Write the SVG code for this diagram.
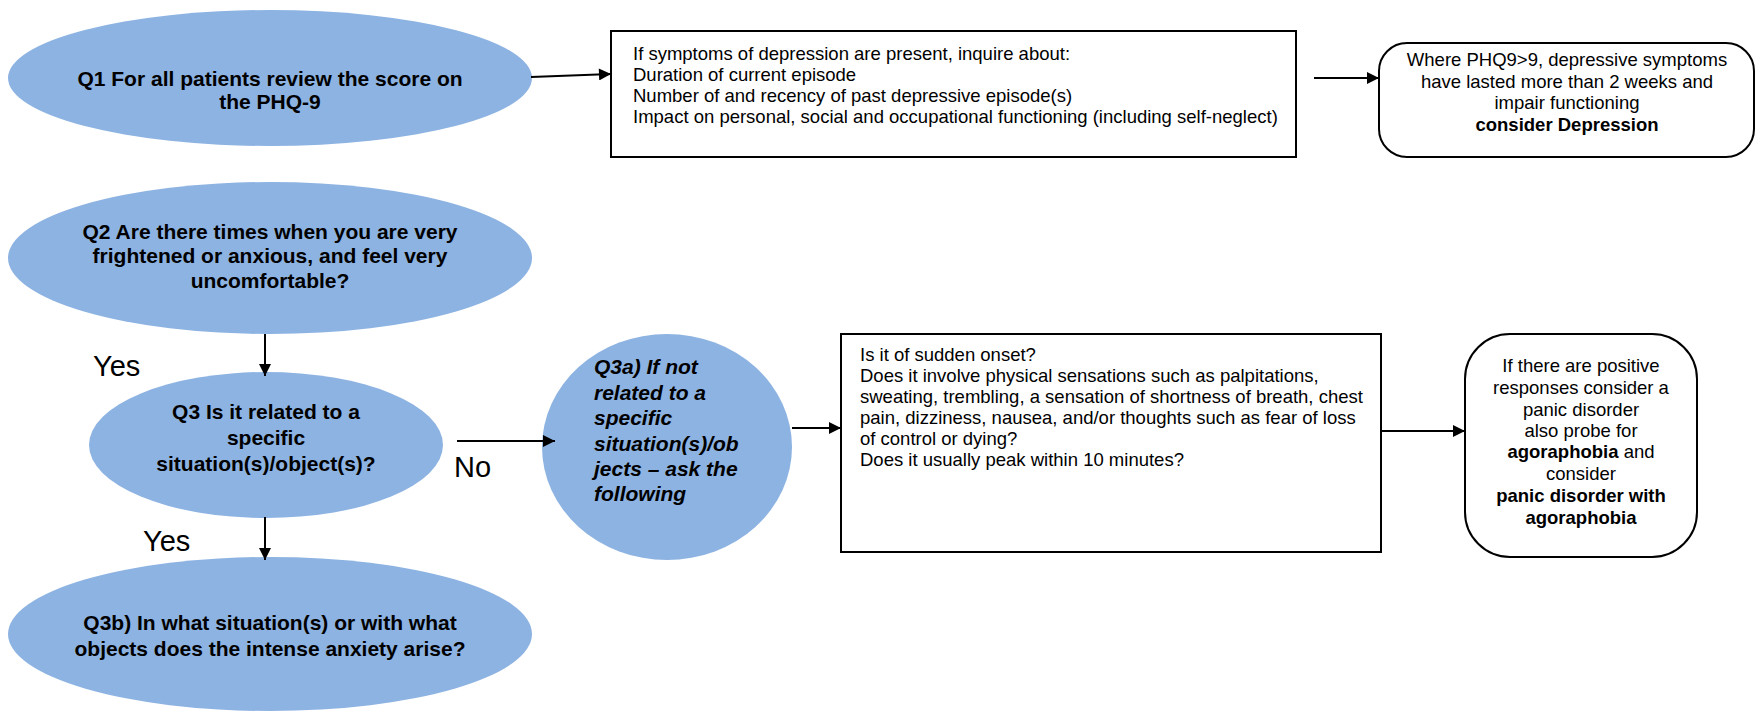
<svg xmlns="http://www.w3.org/2000/svg" width="1756" height="711" viewBox="0 0 1756 711">
<style>
.ell{fill:#8DB3E2}
.box{fill:#fff;stroke:#000;stroke-width:2}
.t{font-family:"Liberation Sans",Arial,sans-serif;font-size:18.5px;fill:#000}
.b{font-weight:bold;font-size:21px}
.i{font-style:italic}
.c{text-anchor:middle}
.lbl{font-family:"Liberation Sans",Arial,sans-serif;font-size:29px;fill:#000}
.con{stroke:#000;stroke-width:2;fill:none;marker-end:url(#ah)}
</style>
<defs>
<marker id="ah" viewBox="0 0 10 10" refX="10" refY="5" markerWidth="14" markerHeight="12" markerUnits="userSpaceOnUse" orient="auto">
<path d="M0,0 L10,5 L0,10 z" fill="#000"/>
</marker>
</defs>
<rect width="1756" height="711" fill="#fff"/>
<g id="q1">
<ellipse class="ell" cx="270" cy="78" rx="262" ry="68"/>
<text class="t b c" x="270" y="86">Q1 For all patients review the score on</text>
<text class="t b c" x="270" y="109">the PHQ-9</text>
</g>
<g id="box1">
<rect class="box" x="611" y="31" width="685" height="126"/>
<text class="t" x="633" y="60">If symptoms of depression are present, inquire about:</text>
<text class="t" x="633" y="81">Duration of current episode</text>
<text class="t" x="633" y="102">Number of and recency of past depressive episode(s)</text>
<text class="t" x="633" y="123">Impact on personal, social and occupational functioning (including self-neglect)</text>
</g>
<g id="box2">
<rect class="box" x="1379" y="43" width="375" height="114" rx="28"/>
<text class="t c" x="1567" y="66">Where PHQ9&gt;9, depressive symptoms</text>
<text class="t c" x="1567" y="88">have lasted more than 2 weeks and</text>
<text class="t c" x="1567" y="109">impair functioning</text>
<text class="t c" x="1567" y="131" font-weight="bold">consider Depression</text>
</g>
<g id="q2">
<ellipse class="ell" cx="270" cy="258" rx="262" ry="76"/>
<text class="t b c" x="270" y="239">Q2 Are there times when you are very</text>
<text class="t b c" x="270" y="263">frightened or anxious, and feel very</text>
<text class="t b c" x="270" y="288">uncomfortable?</text>
</g>
<g id="q3">
<ellipse class="ell" cx="266" cy="445" rx="177" ry="73"/>
<text class="t b c" x="266" y="419">Q3 Is it related to a</text>
<text class="t b c" x="266" y="445">specific</text>
<text class="t b c" x="266" y="471">situation(s)/object(s)?</text>
</g>
<g id="q3a">
<ellipse class="ell" cx="667" cy="447" rx="125" ry="113"/>
<text class="t b i" x="594" y="374">Q3a) If not</text>
<text class="t b i" x="594" y="400">related to a</text>
<text class="t b i" x="594" y="425">specific</text>
<text class="t b i" x="594" y="451">situation(s)/ob</text>
<text class="t b i" x="594" y="476">jects – ask the</text>
<text class="t b i" x="594" y="501">following</text>
</g>
<g id="box3">
<rect class="box" x="841" y="334" width="540" height="218"/>
<text class="t" x="860" y="361">Is it of sudden onset?</text>
<text class="t" x="860" y="382">Does it involve physical sensations such as palpitations,</text>
<text class="t" x="860" y="403">sweating, trembling, a sensation of shortness of breath, chest</text>
<text class="t" x="860" y="424">pain, dizziness, nausea, and/or thoughts such as fear of loss</text>
<text class="t" x="860" y="445">of control or dying?</text>
<text class="t" x="860" y="466">Does it usually peak within 10 minutes?</text>
</g>
<g id="box4">
<rect class="box" x="1465" y="334" width="232" height="223" rx="45"/>
<text class="t c" x="1581" y="372">If there are positive</text>
<text class="t c" x="1581" y="394">responses consider a</text>
<text class="t c" x="1581" y="416">panic disorder</text>
<text class="t c" x="1581" y="437">also probe for</text>
<text class="t c" x="1581" y="458"><tspan font-weight="bold">agoraphobia</tspan> and</text>
<text class="t c" x="1581" y="480">consider</text>
<text class="t c" x="1581" y="502" font-weight="bold">panic disorder with</text>
<text class="t c" x="1581" y="524" font-weight="bold">agoraphobia</text>
</g>
<g id="q3b">
<ellipse class="ell" cx="270" cy="634" rx="262" ry="77"/>
<text class="t b c" x="270" y="630">Q3b) In what situation(s) or with what</text>
<text class="t b c" x="270" y="656">objects does the intense anxiety arise?</text>
</g>
<g id="labels">
<text class="lbl" x="93" y="376">Yes</text>
<text class="lbl" x="454" y="477">No</text>
<text class="lbl" x="143" y="551">Yes</text>
</g>
<g id="connectors">
<line class="con" x1="531" y1="77" x2="611" y2="74"/>
<line class="con" x1="1314" y1="78" x2="1379" y2="78"/>
<line class="con" x1="265" y1="334" x2="265" y2="376"/>
<line class="con" x1="457" y1="441" x2="555" y2="441"/>
<line class="con" x1="792" y1="428" x2="841" y2="428"/>
<line class="con" x1="1381" y1="431" x2="1465" y2="431"/>
<line class="con" x1="265" y1="517" x2="265" y2="560"/>
</g>
</svg>
